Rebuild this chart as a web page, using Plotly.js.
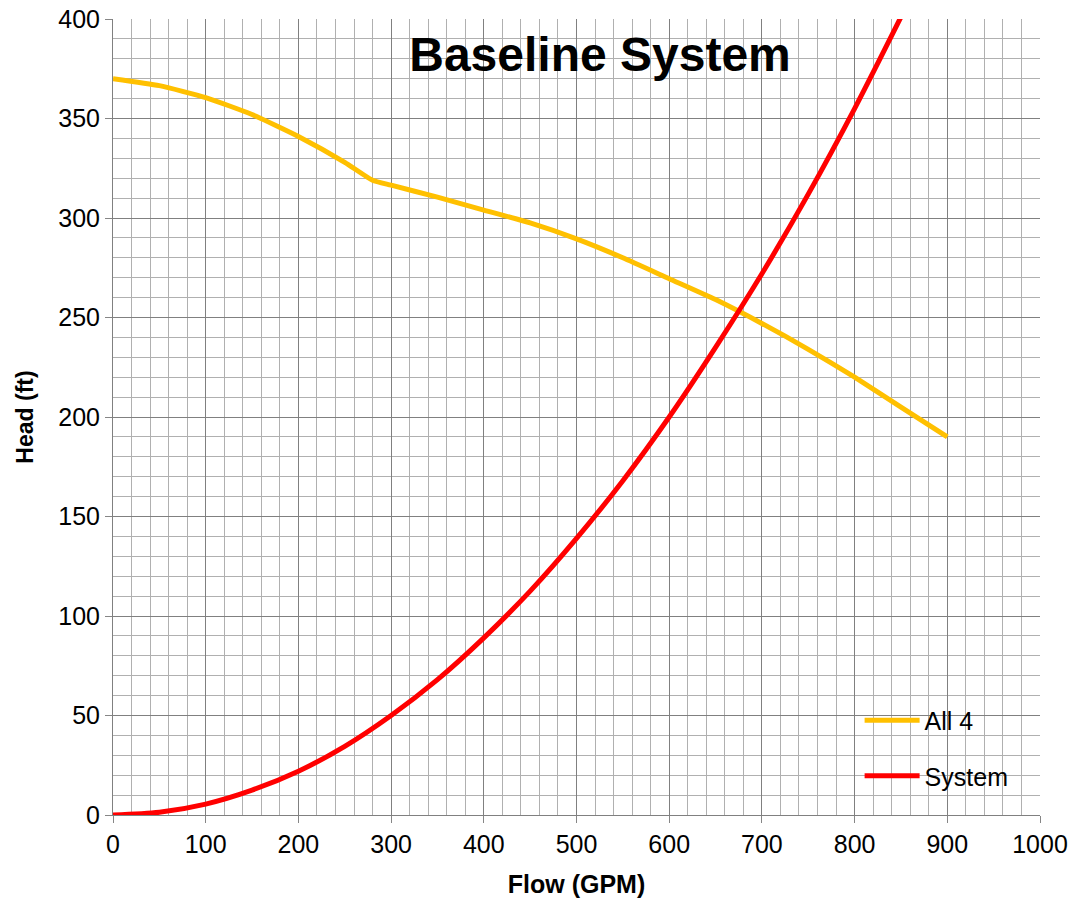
<!DOCTYPE html>
<html>
<head>
<meta charset="utf-8">
<script src="https://cdn.plot.ly/plotly-3.0.1.min.js"></script>
<style>html,body{margin:0;padding:0;background:#fff;}#chart{width:1074px;height:901px;}</style>
</head>
<body>
<div id="chart"></div>
<script>
// Pump curve "All 4" (Flow GPM, Head ft)
var pumpFlow = [0, 50, 100, 150, 200, 250, 280, 300, 350, 400, 450, 500, 550, 600, 650, 700, 750, 800, 850, 900];
var pumpHead = [370, 366.5, 360.5, 352, 341, 328, 319, 316.5, 310.5, 304, 297.5, 289.5, 280, 269.5, 259, 247, 234, 220, 205, 190];
// System curve
var sysFlow = [0, 50, 100, 150, 200, 250, 300, 350, 400, 450, 500, 550, 600, 650, 700, 750, 800, 850];
var sysHead = [0, 1.4, 5.5, 12.5, 22, 34.5, 50, 68, 89, 112.5, 139, 168, 200, 235, 272, 312, 355, 401];
var seriesNames = ["All 4", "System"];
var xTickVals = [0, 100, 200, 300, 400, 500, 600, 700, 800, 900, 1000];
var yTickVals = [0, 50, 100, 150, 200, 250, 300, 350, 400];

var FONT = "Liberation Sans, Arial, sans-serif";
var traces = [
  {x: pumpFlow, y: pumpHead, name: seriesNames[0], mode: "lines", type: "scatter",
   line: {color: "#FFC000", width: 5, shape: "spline", smoothing: 0.5}, legendgroup: "a"},
  {x: sysFlow, y: sysHead, name: seriesNames[1], mode: "lines", type: "scatter",
   line: {color: "#FF0000", width: 5, shape: "spline", smoothing: 0.8}, legendgroup: "b"}
];
var layout = {
  width: 1074, height: 901,
  margin: {l: 113, r: 34, t: 19, b: 86},
  paper_bgcolor: "#fff", plot_bgcolor: "#fff",
  font: {family: FONT, size: 25, color: "#000"},
  title: {text: "<b>Baseline System</b>", font: {family: FONT, size: 48, color: "#000"},
          x: 600/1074, xanchor: "center", xref: "container", y: 1 - 54/901, yanchor: "middle", yref: "container"},
  showlegend: true,
  legend: {x: 0.8054, xanchor: "left", y: 0.1475, yanchor: "top", bgcolor: "rgba(0,0,0,0)",
           font: {family: FONT, size: 25, color: "#000"}, itemwidth: 55, traceorder: "grouped", tracegroupgap: 20},
  xaxis: {range: [0, 1000], tickvals: xTickVals, ticks: "outside", ticklen: 7, tickcolor: "#868686", tickwidth: 1,
          showgrid: true, gridcolor: "#808080", gridwidth: 1, zeroline: false,
          showline: true, linecolor: "#808080", linewidth: 1,
          minor: {dtick: 20, showgrid: true, gridcolor: "#b0b0b0", gridwidth: 1, ticks: ""},
          tickfont: {family: FONT, size: 25, color: "#000"},
          title: {text: "<b>Flow (GPM)</b>", font: {family: FONT, size: 25, color: "#000"}, standoff: 18},
          fixedrange: true},
  yaxis: {range: [0, 400], tickvals: yTickVals, ticks: "outside", ticklen: 7, tickcolor: "#868686", tickwidth: 1,
          showgrid: true, gridcolor: "#808080", gridwidth: 1, zeroline: false,
          showline: true, linecolor: "#808080", linewidth: 1,
          minor: {dtick: 10, showgrid: true, gridcolor: "#b0b0b0", gridwidth: 1, ticks: ""},
          tickfont: {family: FONT, size: 25, color: "#000"},
          title: {text: "<b>Head (ft)</b>", font: {family: FONT, size: 23, color: "#000"}, standoff: 18},
          fixedrange: true}
};
Plotly.newPlot("chart", traces, layout, {displayModeBar: false, staticPlot: true});
</script>
</body>
</html>
